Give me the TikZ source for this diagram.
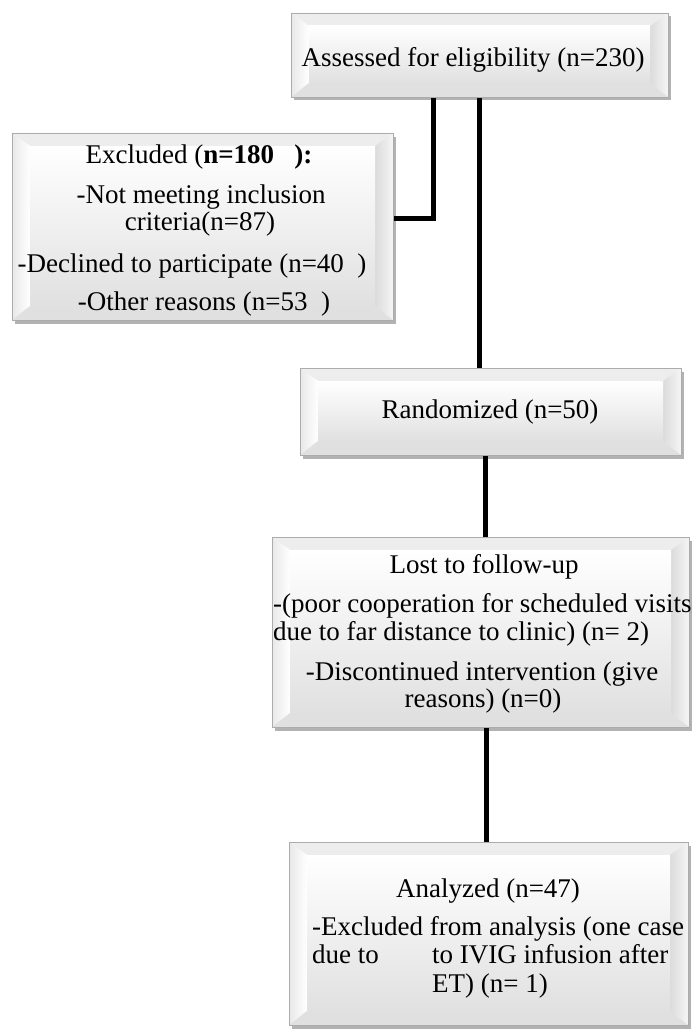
\documentclass[tikz,border=0pt]{standalone}
\usepackage{fontspec}
\setmainfont{Liberation Serif}
\usetikzlibrary{calc,shadows,backgrounds}
\tikzset{
  bevelbox/.style={draw=gray!65, line width=0.8pt, fill=white, rectangle,
    anchor=north west, inner sep=0pt, outer sep=0pt,
    drop shadow={shadow xshift=2.5pt, shadow yshift=-3.5pt, fill=black, opacity=0.3},
    path picture={
      \path (path picture bounding box.north west) coordinate (pA)
            (path picture bounding box.north east) coordinate (pB)
            (path picture bounding box.south east) coordinate (pC)
            (path picture bounding box.south west) coordinate (pD);
      \path ($(pA)+(18pt,-13pt)$) coordinate (iA)
            ($(pB)+(-18pt,-13pt)$) coordinate (iB)
            ($(pC)+(-18pt,14pt)$) coordinate (iC)
            ($(pD)+(18pt,14pt)$) coordinate (iD);
      \fill[gray!14] (pA)--(pB)--(iB)--(iA)--cycle;
      \shade[left color=gray!18, right color=white] (pA)--(iA)--(iD)--(pD)--cycle;
      \shade[left color=gray!28, right color=gray!8] (pB)--(pC)--(iC)--(iB)--cycle;
      \fill[gray!24] (pD)--(pC)--(iC)--(iD)--cycle;
      \shade[top color=white, bottom color=gray!24] (iA) rectangle (iC);
    }},
  conn/.style={line width=5pt, black},
  txt/.style={font=\fontsize{27}{28}\selectfont, inner sep=0pt, anchor=base},
  txtl/.style={txt, anchor=base west},
}
\begin{document}
\begin{tikzpicture}[x=1pt,y=-1pt]
\useasboundingbox (0,0) rectangle (692,1030);
% boxes
\node[bevelbox, minimum width=377pt, minimum height=84pt] (assess) at (291,13) {};
\node[bevelbox, minimum width=381pt, minimum height=187pt] (excl) at (12,133) {};
\node[bevelbox, minimum width=381pt, minimum height=87pt] (rand) at (300,368) {};
\node[bevelbox, minimum width=417pt, minimum height=190pt] (lost) at (272,537) {};
\node[bevelbox, minimum width=399pt, minimum height=183pt] (anal) at (289,842) {};
% texts
\node[txt] (t1) at (473,67) {Assessed for eligibility (n=230)};
\node[txt] (t2) at (199,163) {Excluded (\textbf{n=180}\ \ \ \textbf{):}};
\node[txt] (t3) at (201,203) {-Not meeting inclusion};
\node[txt] (t4) at (200,230) {criteria(n=87)};
\node[txt] (t5) at (192,272) {-Declined to participate (n=40\ \ )};
\node[txt] (t6) at (204,310) {-Other reasons (n=53\ \ )};
\node[txt] (t7) at (490,418) {Randomized (n=50)};
\node[txt] (t8) at (484,573) {Lost to follow-up};
\node[txtl] (t9) at (273,612) {-(poor cooperation for scheduled visits};
\node[txtl] (t10) at (273,640) {due to far distance to clinic) (n=\ 2)};
\node[txt] (t11) at (482,680) {-Discontinued intervention (give};
\node[txt] (t12) at (483,707) {reasons) (n=0)};
\node[txt] (t13) at (488,897) {Analyzed (n=47)};
\node[txtl] (t14) at (312,935) {-Excluded from analysis (one case};
\node[txtl] (t15) at (312,963) {due to};
\node[txtl] (t16) at (432,963) {to IVIG infusion after};
\node[txtl] (t17) at (432,992) {ET) (n=\ 1)};
% connectors
\coordinate (j1) at (433,218);
\coordinate (c2) at (479,0);
\coordinate (c3) at (485,0);
\coordinate (c4) at (486,0);
\begin{scope}[on background layer]
\draw[conn] (assess.south -| j1) -- (j1) -- (excl.east |- j1);
\draw[conn] (assess.south -| c2) -- (rand.north -| c2);
\draw[conn] (rand.south -| c3) -- (lost.north -| c3);
\draw[conn] (lost.south -| c4) -- (anal.north -| c4);
\end{scope}
\end{tikzpicture}
\end{document}
